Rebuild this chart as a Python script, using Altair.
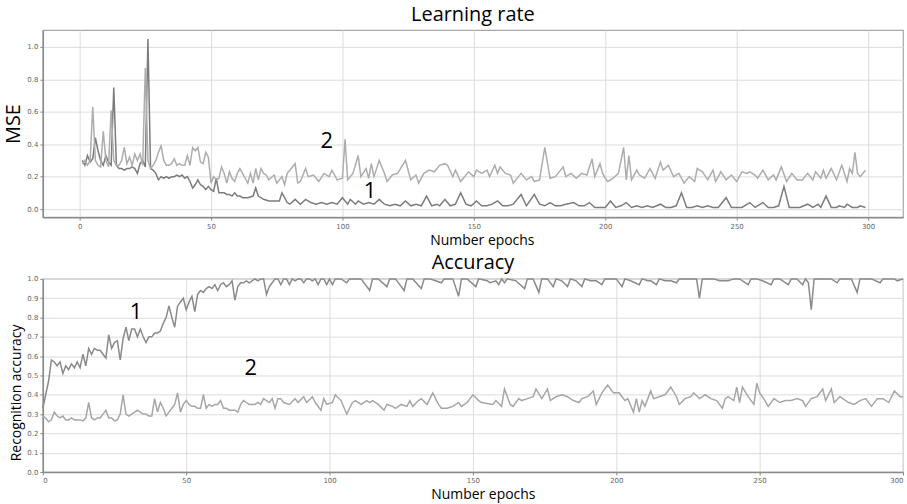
import altair as alt
import pandas as pd

# ---------------- data ----------------
# MSE, curve "1" (darker): (epoch, value)
mse_1 = [(1,0.30),(2,0.27),(3,0.33),(4,0.29),(5,0.31),(6,0.44),(7,0.36),(8,0.30),(9,0.27),(10,0.33),
         (11,0.29),(12,0.27),(13,0.75),(14,0.27),(15,0.25),(16,0.25),(17,0.24),(18,0.25),(19,0.25),(20,0.26),
         (21,0.25),(22,0.22),(23,0.28),(24,0.30),(25,0.26),(26,1.05),(27,0.25),(28,0.24),(29,0.22),(30,0.18),
         (31,0.20),(32,0.19),(33,0.20),(34,0.19),(35,0.20),(36,0.20),(37,0.21),(38,0.20),(39,0.21),(40,0.19),
         (41,0.20),(42,0.17),(43,0.13),(44,0.15),(45,0.18),(46,0.15),(47,0.14),(48,0.12),(49,0.14),(50,0.12),
         (51,0.11),(52,0.19),(53,0.10),(54,0.10),(55,0.10),(56,0.09),(57,0.09),(58,0.08),(59,0.10),(60,0.08),
         (61,0.08),(62,0.07),(64,0.07),(66,0.08),(67,0.13),(68,0.08),(70,0.06),(72,0.05),(74,0.05),(76,0.05),
         (77,0.10),(79,0.04),(80,0.03),(82,0.06),(84,0.03),(86,0.06),(88,0.04),(90,0.03),(92,0.04),(94,0.03),
         (96,0.04),(98,0.03),(100,0.07),(102,0.03),(103,0.06),(105,0.03),(106,0.05),(108,0.03),(110,0.04),
         (112,0.03),(114,0.06),(116,0.03),(118,0.02),(120,0.03),(122,0.02),(124,0.05),(126,0.02),(128,0.03),
         (130,0.02),(132,0.08),(134,0.02),(136,0.03),(137,0.02),(139,0.06),(141,0.02),(143,0.03),(145,0.10),
         (147,0.03),(149,0.02),(151,0.05),(153,0.02),(155,0.02),(157,0.03),(159,0.05),(161,0.02),(163,0.02),
         (165,0.03),(168,0.09),(170,0.02),(173,0.09),(175,0.03),(177,0.02),(179,0.04),(181,0.02),(183,0.02),
         (185,0.03),(188,0.04),(190,0.02),(192,0.02),(194,0.04),(196,0.01),(198,0.01),(200,0.01),(202,0.05),
         (204,0.01),(206,0.02),(208,0.04),(210,0.01),(212,0.02),(214,0.01),(216,0.02),(218,0.01),(221,0.03),
         (223,0.01),(225,0.01),(227,0.02),(229,0.10),(231,0.01),(233,0.01),(235,0.02),(237,0.01),(239,0.02),
         (241,0.01),(243,0.01),(246,0.07),(248,0.01),(250,0.01),(252,0.01),(255,0.04),(257,0.01),(260,0.04),
         (262,0.01),(264,0.01),(266,0.02),(268,0.14),(270,0.01),(272,0.01),(274,0.01),(277,0.03),(279,0.01),
         (281,0.03),(282,0.01),(284,0.08),(286,0.01),(288,0.01),(289,0.02),(291,0.01),(292,0.03),(294,0.01),
         (296,0.01),(297,0.02),(299,0.01)]

# MSE, curve "2" (lighter)
mse_2 = [(1,0.28),(2,0.30),(3,0.27),(4,0.30),(5,0.63),(6,0.30),(7,0.27),(8,0.26),(9,0.48),(10,0.30),
         (11,0.26),(12,0.61),(13,0.30),(14,0.27),(15,0.27),(16,0.30),(17,0.38),(18,0.28),(19,0.32),(20,0.27),
         (21,0.34),(22,0.30),(23,0.34),(24,0.27),(25,0.87),(26,0.30),(27,0.25),(28,0.27),(29,0.30),(30,0.35),
         (31,0.39),(32,0.30),(33,0.27),(34,0.27),(35,0.28),(36,0.31),(37,0.27),(38,0.28),(39,0.27),(40,0.27),
         (41,0.33),(42,0.27),(43,0.38),(44,0.36),(45,0.38),(46,0.29),(47,0.28),(48,0.35),(49,0.32),(50,0.16),
         (51,0.20),(52,0.18),(53,0.19),(54,0.26),(55,0.22),(56,0.16),(57,0.23),(58,0.19),(59,0.17),(60,0.22),
         (61,0.25),(62,0.22),(63,0.19),(64,0.16),(65,0.22),(66,0.16),(67,0.25),(68,0.18),(69,0.25),(70,0.22),
         (71,0.21),(72,0.18),(74,0.21),(75,0.16),(77,0.20),(78,0.15),(79,0.22),(80,0.24),(82,0.28),(83,0.16),
         (84,0.17),(86,0.25),(87,0.20),(89,0.21),(91,0.17),(93,0.22),(95,0.20),(96,0.24),(98,0.18),(100,0.19),
         (101,0.43),(102,0.18),(104,0.22),(106,0.33),(107,0.20),(109,0.25),(110,0.19),(111,0.28),(112,0.20),
         (114,0.30),(116,0.22),(117,0.17),(119,0.21),(121,0.22),(124,0.30),(126,0.18),(128,0.21),(129,0.16),
         (131,0.22),(133,0.24),(135,0.23),(137,0.27),(139,0.28),(140,0.27),(142,0.20),(143,0.24),(145,0.17),
         (148,0.23),(150,0.20),(151,0.24),(153,0.22),(155,0.24),(156,0.20),(158,0.27),(159,0.22),(160,0.26),
         (162,0.22),(164,0.21),(165,0.16),(167,0.20),(168,0.22),(170,0.18),(172,0.20),(173,0.17),(175,0.18),
         (177,0.38),(179,0.19),(181,0.20),(182,0.22),(184,0.26),(185,0.20),(187,0.22),(189,0.19),(191,0.22),
         (193,0.21),(195,0.31),(196,0.20),(198,0.28),(199,0.22),(200,0.19),(201,0.17),(203,0.19),(205,0.22),
         (207,0.38),(208,0.18),(209,0.33),(210,0.18),(212,0.24),(213,0.21),(215,0.19),(217,0.25),(219,0.19),
         (221,0.29),(222,0.24),(224,0.27),(226,0.20),(228,0.22),(230,0.16),(232,0.20),(234,0.17),(235,0.25),
         (237,0.23),(239,0.18),(241,0.24),(242,0.17),(244,0.23),(246,0.18),(248,0.21),(250,0.17),(252,0.23),
         (254,0.22),(255,0.23),(257,0.21),(258,0.19),(260,0.24),(262,0.18),(264,0.21),(265,0.18),(267,0.26),
         (269,0.17),(271,0.22),(273,0.18),(275,0.18),(277,0.22),(279,0.18),(280,0.23),(282,0.19),(283,0.24),
         (284,0.19),(286,0.25),(288,0.18),(290,0.27),(292,0.17),(293,0.25),(294,0.22),(295,0.35),(296,0.22),
         (297,0.20),(299,0.24)]

# Recognition accuracy, curve "1"
acc_1 = [(0,0.33),(1,0.40),(2,0.47),(3,0.58),(4,0.57),(5,0.55),(6,0.57),(7,0.51),(8,0.55),(9,0.53),
         (10,0.56),(11,0.54),(12,0.57),(13,0.54),(14,0.61),(15,0.55),(16,0.64),(17,0.61),(18,0.64),(19,0.63),
         (20,0.63),(21,0.61),(22,0.59),(23,0.71),(24,0.64),(25,0.67),(26,0.68),(27,0.58),(28,0.69),(29,0.75),
         (30,0.68),(31,0.74),(32,0.74),(33,0.70),(34,0.74),(35,0.70),(36,0.67),(37,0.70),(38,0.70),(39,0.72),
         (40,0.72),(41,0.73),(42,0.77),(43,0.80),(44,0.86),(45,0.80),(46,0.75),(47,0.86),(48,0.88),(49,0.90),
         (50,0.84),(51,0.88),(52,0.91),(53,0.83),(54,0.92),(55,0.94),(56,0.93),(57,0.95),(58,0.96),(59,0.95),
         (60,0.97),(61,0.94),(62,0.97),(63,0.98),(64,0.96),(65,0.97),(66,0.99),(67,0.89),(68,0.96),(69,0.98),
         (70,0.98),(71,0.99),(72,0.98),(73,0.99),(74,1.00),(75,0.99),(76,1.00),(77,1.00),(78,0.92),(79,0.96),
         (80,0.98),(81,1.00),(82,1.00),(83,0.97),(84,1.00),(85,1.00),(86,0.97),(87,1.00),(88,0.99),(89,1.00),
         (90,1.00),(91,0.98),(92,1.00),(93,1.00),(94,0.99),(95,1.00),(96,0.97),(97,1.00),(98,1.00),(99,0.97),
         (100,1.00),(101,0.97),(102,1.00),(104,1.00),(106,0.98),(107,1.00),(109,1.00),(111,1.00),(114,0.94),
         (115,1.00),(117,1.00),(120,0.96),(121,1.00),(123,1.00),(126,0.94),(127,1.00),(129,1.00),(132,0.95),
         (133,1.00),(135,1.00),(137,0.99),(139,0.98),(140,1.00),(143,1.00),(145,0.91),(146,1.00),(148,1.00),
         (151,0.96),(152,1.00),(155,0.99),(156,0.98),(158,0.99),(159,0.97),(160,1.00),(161,0.98),(162,1.00),
         (165,0.99),(168,0.95),(169,1.00),(171,1.00),(173,0.93),(174,1.00),(176,1.00),(178,0.96),(179,1.00),
         (181,0.99),(183,0.96),(184,1.00),(186,0.99),(188,0.96),(189,1.00),(191,0.99),(193,0.99),(195,0.97),
         (196,1.00),(198,1.00),(200,1.00),(202,0.96),(203,1.00),(205,0.99),(208,0.97),(209,1.00),(211,0.99),
         (212,0.99),(214,0.97),(215,1.00),(217,0.99),(219,0.99),(221,0.98),(222,1.00),(224,1.00),(226,1.00),
         (228,1.00),(229,0.90),(230,1.00),(232,1.00),(234,1.00),(236,0.99),(237,0.99),(239,0.99),(241,1.00),
         (243,1.00),(246,0.97),(247,1.00),(249,1.00),(251,0.99),(254,0.97),(255,1.00),(257,1.00),(260,0.97),
         (261,1.00),(263,1.00),(265,0.97),(266,1.00),(267,0.98),(268,0.84),(269,1.00),(271,1.00),(273,1.00),
         (275,1.00),(277,0.98),(278,1.00),(280,1.00),(282,1.00),(284,0.93),(285,1.00),(287,1.00),(289,1.00),
         (292,0.98),(293,1.00),(295,1.00),(297,1.00),(298,0.99),(300,1.00)]

# Recognition accuracy, curve "2"
acc_2 = [(0,0.29),(1,0.28),(2,0.26),(3,0.27),(4,0.31),(5,0.29),(6,0.28),(7,0.29),(8,0.27),(9,0.27),
         (10,0.28),(11,0.27),(12,0.27),(13,0.27),(14,0.265),(15,0.28),(16,0.36),(17,0.28),(18,0.27),(19,0.28),
         (20,0.28),(21,0.30),(22,0.32),(23,0.28),(24,0.28),(25,0.265),(26,0.27),(27,0.30),(28,0.40),(29,0.30),
         (30,0.29),(31,0.30),(32,0.31),(33,0.32),(34,0.31),(35,0.30),(36,0.30),(37,0.29),(38,0.29),(39,0.38),
         (40,0.31),(41,0.36),(42,0.33),(43,0.29),(44,0.31),(45,0.33),(46,0.35),(47,0.41),(48,0.31),(49,0.35),
         (50,0.37),(51,0.35),(52,0.34),(53,0.34),(54,0.33),(55,0.33),(56,0.40),(57,0.33),(58,0.35),(59,0.34),
         (60,0.35),(61,0.35),(62,0.37),(63,0.33),(64,0.33),(65,0.32),(66,0.32),(67,0.32),(68,0.31),(69,0.35),
         (70,0.37),(71,0.36),(72,0.35),(74,0.35),(75,0.36),(76,0.35),(77,0.38),(78,0.37),(79,0.36),(80,0.38),
         (81,0.33),(82,0.38),(83,0.38),(84,0.36),(86,0.35),(88,0.38),(89,0.36),(91,0.39),(92,0.36),(94,0.39),
         (95,0.36),(97,0.32),(98,0.38),(99,0.35),(101,0.36),(102,0.40),(104,0.37),(106,0.30),(107,0.33),
         (108,0.36),(109,0.37),(111,0.35),(113,0.37),(114,0.36),(115,0.37),(117,0.35),(119,0.32),(120,0.35),
         (122,0.34),(123,0.33),(125,0.35),(127,0.34),(128,0.37),(129,0.34),(131,0.37),(132,0.38),(134,0.35),
         (136,0.41),(138,0.35),(139,0.33),(141,0.33),(143,0.34),(145,0.36),(146,0.34),(148,0.36),(150,0.40),
         (152,0.37),(153,0.36),(155,0.355),(157,0.35),(158,0.37),(160,0.34),(161,0.43),(163,0.35),(164,0.34),
         (166,0.38),(167,0.37),(169,0.38),(171,0.39),(172,0.43),(174,0.38),(176,0.43),(177,0.37),(179,0.39),
         (181,0.40),(183,0.39),(185,0.37),(187,0.36),(188,0.38),(190,0.39),(192,0.42),(193,0.35),(195,0.41),
         (197,0.45),(199,0.41),(201,0.41),(203,0.37),(204,0.38),(206,0.31),(207,0.38),(208,0.31),(209,0.37),
         (210,0.34),(212,0.42),(213,0.38),(215,0.39),(217,0.40),(219,0.44),(221,0.39),(222,0.35),(224,0.38),
         (226,0.39),(227,0.41),(229,0.38),(231,0.40),(233,0.38),(235,0.37),(237,0.33),(238,0.38),(239,0.39),
         (241,0.37),(242,0.44),(243,0.36),(244,0.44),(246,0.39),(248,0.35),(249,0.46),(250,0.41),(251,0.39),
         (253,0.34),(255,0.38),(257,0.36),(259,0.37),(261,0.37),(263,0.38),(265,0.37),(266,0.34),(268,0.38),
         (270,0.39),(272,0.43),(273,0.37),(275,0.43),(276,0.36),(278,0.39),(279,0.38),(281,0.36),(283,0.35),
         (285,0.37),(287,0.38),(289,0.34),(291,0.38),(293,0.38),(295,0.36),(297,0.42),(299,0.39),(300,0.39)]

# curve labels placed in data coordinates: (text, epoch, value)
mse_labels = [("1", 110.5, 0.11), ("2", 94.0, 0.42)]
acc_labels = [("1", 32.5, 0.83), ("2", 72.5, 0.54)]

x_ticks = [0, 50, 100, 150, 200, 250, 300]
mse_ticks = [0.0, 0.2, 0.4, 0.6, 0.8, 1.0]
acc_ticks = [0.0, 0.1, 0.2, 0.3, 0.4, 0.5, 0.6, 0.7, 0.8, 0.9, 1.0]

# ---------------- build tables ----------------
def table(pairs, name):
    return pd.DataFrame({"epoch": [p[0] for p in pairs],
                         "value": [p[1] for p in pairs],
                         "series": name})

top_df = pd.concat([table(mse_1, "1"), table(mse_2, "2")], ignore_index=True)
bot_df = pd.concat([table(acc_1, "1"), table(acc_2, "2")], ignore_index=True)
top_lab = pd.DataFrame(mse_labels, columns=["text", "epoch", "value"])
bot_lab = pd.DataFrame(acc_labels, columns=["text", "epoch", "value"])

FONT = "Open Sans"
TICK_FONT = "DejaVu Sans"

def axis_x(title, title_x):
    return alt.Axis(values=x_ticks, title=title, grid=True, gridColor="#dcdcdc",
                    labelFont=TICK_FONT, labelFontSize=7, labelColor="#666",
                    tickSize=3, tickColor="#888", domainColor="#8a8a8a", domainWidth=1.5,
                    labelPadding=2, titleFont=FONT, titleFontSize=14, titleFontWeight="normal",
                    titleColor="#000", titlePadding=4, titleX=title_x)

def axis_y(title, values, size, title_y=None):
    kw = dict(values=values, format=".1f", title=title, grid=True, gridColor="#dcdcdc",
              labelFont=TICK_FONT, labelFontSize=7, labelColor="#666",
              tickSize=3, tickColor="#888", domainColor="#8a8a8a", domainWidth=1.5,
              labelPadding=2, titleFont=FONT, titleFontSize=size, titleFontWeight="normal",
              titleColor="#000", titlePadding=3)
    if title_y is not None:
        kw["titleY"] = title_y
    return alt.Axis(**kw)

top_x = alt.X("epoch:Q", scale=alt.Scale(domain=[-14, 313.3], nice=False, zero=False),
              axis=axis_x("Number epochs", 441))
top_y = alt.Y("value:Q", scale=alt.Scale(domain=[-0.05, 1.105], nice=False, zero=False),
              axis=axis_y("MSE", mse_ticks, 20))

top_lines = alt.Chart(top_df).mark_line(strokeWidth=1.5).encode(
    x=top_x, y=top_y,
    color=alt.Color("series:N", scale=alt.Scale(domain=["1", "2"], range=["#7c7c7c", "#adadad"]),
                    legend=None),
)
top_text = alt.Chart(top_lab).mark_text(font=FONT, fontSize=22, color="#000").encode(
    x=top_x, y=top_y, text="text:N")

top = alt.layer(top_lines, top_text).properties(
    width=864, height=188,
    title=alt.TitleParams("Learning rate", font=FONT, fontSize=20, fontWeight="normal",
                          color="#000", offset=5))

bot_x = alt.X("epoch:Q", scale=alt.Scale(domain=[0, 300], nice=False, zero=False),
              axis=axis_x("Number epochs", 442))
bot_y = alt.Y("value:Q", scale=alt.Scale(domain=[0, 1], nice=False),
              axis=axis_y("Recognition accuracy", acc_ticks, 14, 114))

bot_lines = alt.Chart(bot_df).mark_line(strokeWidth=1.5).encode(
    x=bot_x, y=bot_y,
    color=alt.Color("series:N", scale=alt.Scale(domain=["1", "2"], range=["#8a8a8a", "#a6a6a6"]),
                    legend=None),
)
bot_text = alt.Chart(bot_lab).mark_text(font=FONT, fontSize=22, color="#000").encode(
    x=bot_x, y=bot_y, text="text:N")

bottom = alt.layer(bot_lines, bot_text).properties(
    width=864, height=194,
    title=alt.TitleParams("Accuracy", font=FONT, fontSize=20, fontWeight="normal",
                          color="#000", offset=2))

chart = alt.vconcat(top, bottom, spacing=4).resolve_scale(
    x="independent", y="independent", color="independent"
).properties(
    padding={"left": 3, "top": 3, "right": 0, "bottom": 0},
    background="#ffffff",
).configure_view(stroke="#a8a8a8", strokeWidth=1.2)

chart.save("out.html", embed_options={"renderer": "svg", "actions": False})
